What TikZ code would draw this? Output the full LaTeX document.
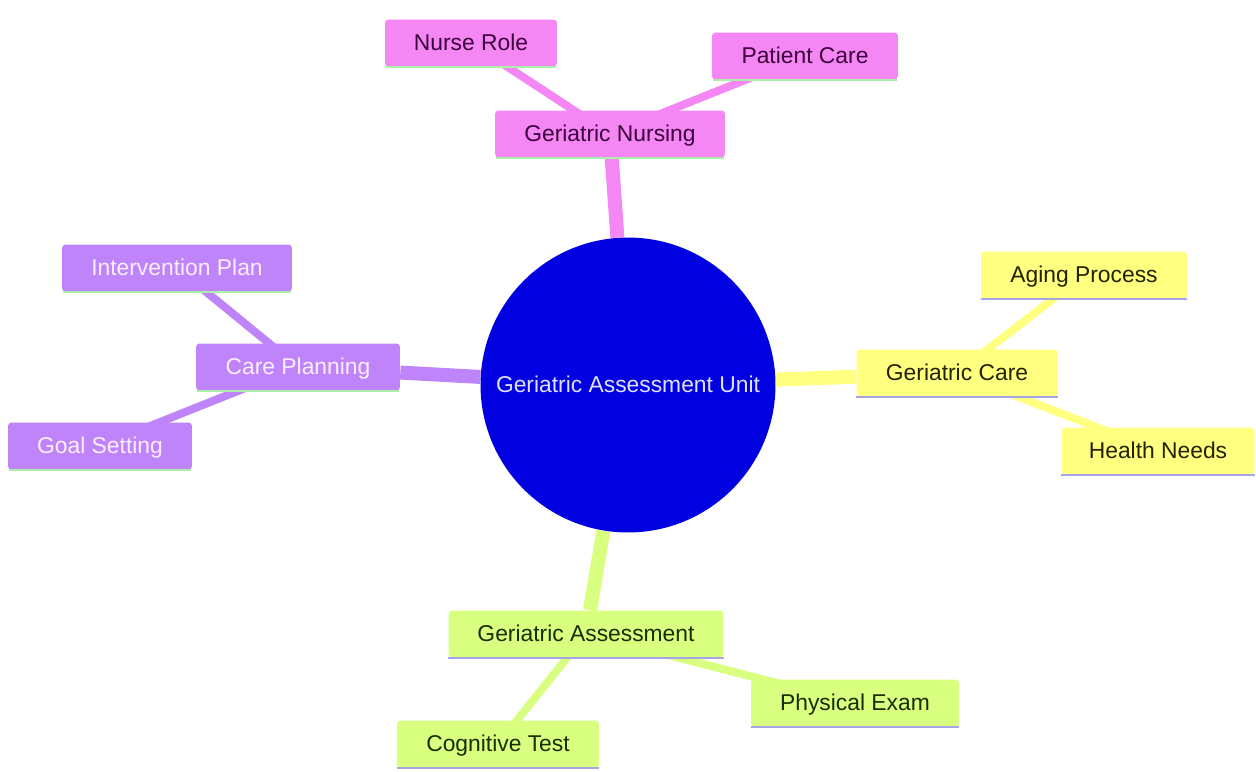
\documentclass[tikz,border=0pt]{standalone}
\usepackage{fontspec}
\setmainfont{Liberation Sans}
\usetikzlibrary{backgrounds}

\definecolor{unitblue}{RGB}{0,0,224}
\definecolor{unittext}{RGB}{225,225,255}
\definecolor{nursepink}{RGB}{245,135,245}
\definecolor{pinktext}{RGB}{60,0,60}
\definecolor{planpurple}{RGB}{192,132,250}
\definecolor{purpletext}{RGB}{250,238,255}
\definecolor{careyellow}{RGB}{255,255,128}
\definecolor{yellowtext}{RGB}{35,35,0}
\definecolor{assesslime}{RGB}{217,255,128}
\definecolor{limetext}{RGB}{25,45,0}
\definecolor{greenline}{RGB}{170,240,170}
\definecolor{lavline}{RGB}{165,165,230}

\begin{document}
\begin{tikzpicture}[x=0.02cm, y=-0.02cm]
 \tikzstyle{every node}=[font=\fontsize{13}{15}\selectfont, minimum height=0.94cm, rounded corners=2pt, inner sep=2pt, text height=0.86em, text depth=0pt]
 \tikzstyle{pinkbox}=[fill=nursepink, text=pinktext]
 \tikzstyle{purplebox}=[fill=planpurple, text=purpletext]
 \tikzstyle{yellowbox}=[fill=careyellow, text=yellowtext]
 \tikzstyle{limebox}=[fill=assesslime, text=limetext]
 \tikzstyle{trunk}=[line width=0.28cm]
 \tikzstyle{twig}=[line width=0.16cm]
 \useasboundingbox (0,0) rectangle (1256,771);

 \node[circle, fill=unitblue, text=unittext, minimum size=5.9cm] (unit) at (628,385) {Geriatric Assessment Unit};

 % nursing branch
 \node[pinkbox, minimum width=4.6cm]  (nursing) at (610,134) {Geriatric Nursing};
 \node[pinkbox, minimum width=3.44cm] (role)    at (471,43)  {Nurse Role};
 \node[pinkbox, minimum width=3.72cm] (patient) at (805,56)  {Patient Care};

 % planning branch
 \node[purplebox, minimum width=4.08cm] (planning) at (298,367) {Care Planning};
 \node[purplebox, minimum width=4.6cm]  (plan)     at (177,268) {Intervention Plan};
 \node[purplebox, minimum width=3.68cm] (goal)     at (100,446) {Goal Setting};

 % care branch
 \node[yellowbox, minimum width=4.02cm] (care)   at (957,373)  {Geriatric Care};
 \node[yellowbox, minimum width=4.12cm] (aging)  at (1084,275) {Aging Process};
 \node[yellowbox, minimum width=3.86cm] (health) at (1158,451) {Health Needs};

 % assessment branch
 \node[limebox, minimum width=5.5cm]  (assess)    at (586,634) {Geriatric Assessment};
 \node[limebox, minimum width=4.16cm] (physical)  at (855,703) {Physical Exam};
 \node[limebox, minimum width=4.04cm] (cognitive) at (498,744) {Cognitive Test};

 \begin{scope}[on background layer]
  \draw[trunk, nursepink]  (unit) -- (nursing);
  \draw[trunk, planpurple] (unit) -- (planning);
  \draw[trunk, careyellow] (unit) -- (care);
  \draw[trunk, assesslime] (unit) -- (assess);
  \draw[twig, nursepink]  (nursing.center) -- (role.center);
  \draw[twig, nursepink]  (nursing.center) -- (patient.center);
  \draw[twig, planpurple] (planning.center) -- (plan.center);
  \draw[twig, planpurple] (planning.center) -- (goal.center);
  \draw[twig, careyellow] (care.center) -- (aging.center);
  \draw[twig, careyellow] (care.center) -- (health.center);
  \draw[twig, assesslime] (assess.center) -- (physical.center);
  \draw[twig, assesslime] (assess.center) -- (cognitive.center);
 \end{scope}

 \foreach \n in {nursing, role, patient, planning, plan, goal}
  \draw[line width=1.5pt, greenline] ([xshift=1pt]\n.south west) -- ([xshift=-1pt]\n.south east);
 \foreach \n in {care, aging, health, assess, physical, cognitive}
  \draw[line width=1.5pt, lavline] (\n.south west) -- (\n.south east);
\end{tikzpicture}
\end{document}
